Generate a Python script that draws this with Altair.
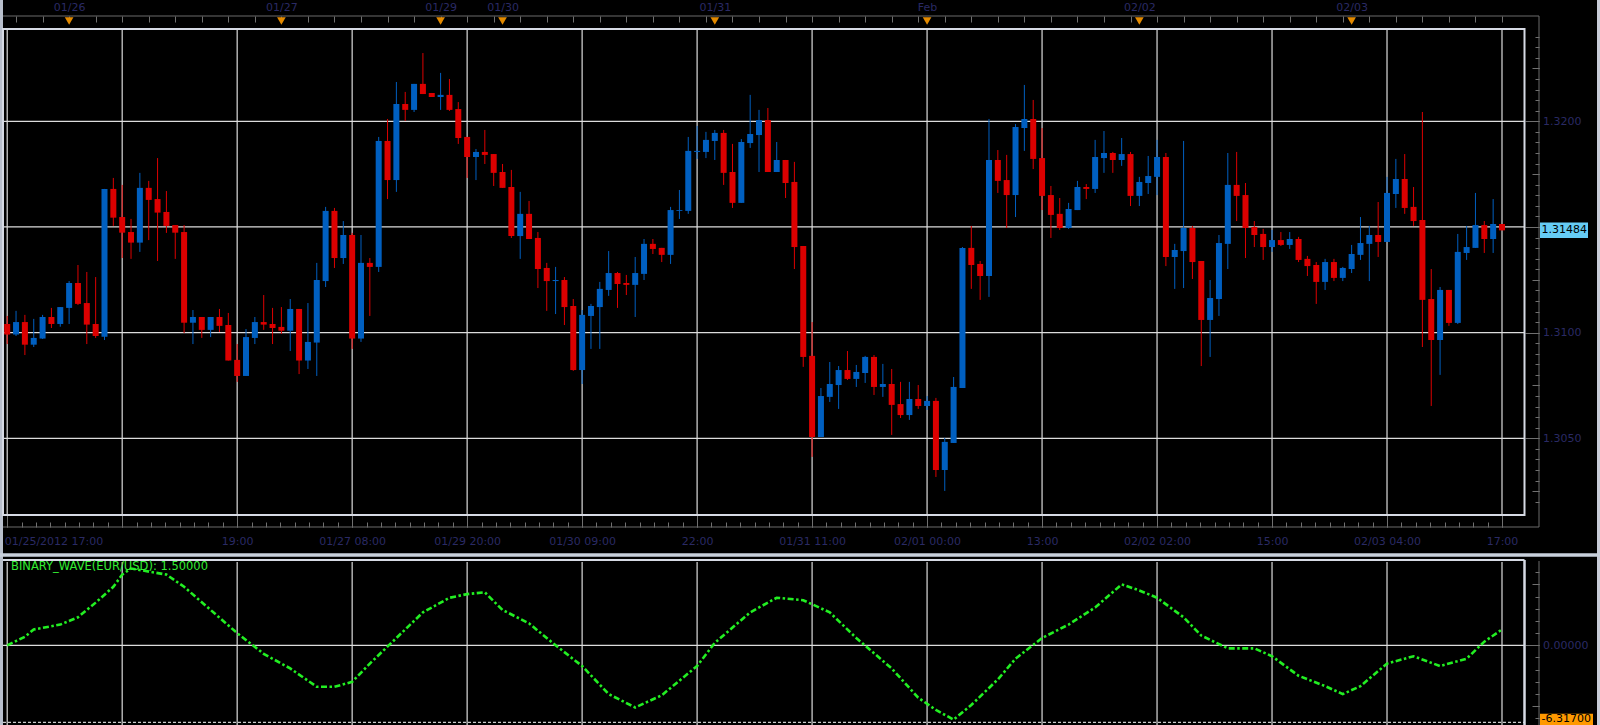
import json
import altair as alt
import pandas as pd

# ---------------- data ----------------
opens = [
1.31041,1.30991,1.31050,1.30943,1.30972,1.31074,1.31041,1.31117,1.31235,1.31140,
1.31041,1.30981,1.31680,1.31547,1.31476,1.31426,1.31685,1.31632,1.31571,1.31509,
1.31476,1.31047,1.31074,1.31013,1.31074,1.31036,1.30871,1.30795,1.30975,1.31050,
1.31041,1.31027,1.31009,1.31112,1.30868,1.30953,1.31244,1.31576,1.31353,1.31462,
1.30972,1.31330,1.31311,1.31907,1.31722,1.32082,1.32054,1.32177,1.32134,1.32115,
1.32125,1.32058,1.31926,1.31831,1.31855,1.31845,1.31760,1.31689,1.31457,1.31562,
1.31448,1.31306,1.31244,1.31249,1.31126,1.30823,1.31079,1.31121,1.31202,1.31282,
1.31235,1.31226,1.31278,1.31420,1.31401,1.31368,1.31576,1.31576,1.31855,1.31855,
1.31907,1.31945,1.31760,1.31614,1.31897,1.31935,1.32006,1.31760,1.31817,1.31713,
1.31410,1.30890,1.30506,1.30696,1.30752,1.30823,1.30781,1.30809,1.30885,1.30743,
1.30757,1.30662,1.30610,1.30686,1.30653,1.30677,1.30350,1.30478,1.30738,1.31401,
1.31325,1.31268,1.31817,1.31722,1.31651,1.31968,1.32011,1.31826,1.31651,1.31562,
1.31495,1.31580,1.31689,1.31680,1.31826,1.31850,1.31817,1.31845,1.31647,1.31708,
1.31737,1.31831,1.31358,1.31386,1.31495,1.31339,1.31060,1.31159,1.31420,1.31699,
1.31651,1.31500,1.31467,1.31405,1.31438,1.31415,1.31443,1.31349,1.31320,1.31240,
1.31334,1.31259,1.31301,1.31368,1.31420,1.31462,1.31429,1.31656,1.31727,1.31595,
1.31533,1.31159,1.30965,1.31202,1.31046,1.31377,1.31401,1.31509,1.31443,1.31514,
]
highs = [
1.31079,1.31103,1.31084,1.31065,1.31084,1.31117,1.31121,1.31244,1.31320,1.31287,
1.31263,1.31680,1.31732,1.31699,1.31538,1.31756,1.31718,1.31826,1.31670,1.31509,
1.31509,1.31107,1.31074,1.31074,1.31112,1.31093,1.30946,1.31017,1.31074,1.31178,
1.31117,1.31121,1.31159,1.31112,1.31140,1.31330,1.31595,1.31590,1.31528,1.31472,
1.31462,1.31353,1.31926,1.32011,1.32186,1.32139,1.32177,1.32323,1.32134,1.32229,
1.32200,1.32091,1.31926,1.31869,1.31959,1.31845,1.31798,1.31770,1.31666,1.31623,
1.31476,1.31330,1.31311,1.31263,1.31159,1.31107,1.31136,1.31240,1.31386,1.31287,
1.31273,1.31358,1.31443,1.31443,1.31401,1.31595,1.31675,1.31926,1.31978,1.31950,
1.31959,1.31959,1.31893,1.31916,1.32125,1.32054,1.32063,1.31902,1.31817,1.31808,
1.31410,1.31050,1.30738,1.30861,1.30842,1.30913,1.30847,1.30890,1.30894,1.30852,
1.30828,1.30767,1.30767,1.30752,1.30700,1.30691,1.30502,1.30790,1.31405,1.31505,
1.31339,1.32011,1.31864,1.31841,1.31987,1.32172,1.32101,1.31968,1.31694,1.31637,
1.31614,1.31718,1.31703,1.31912,1.31954,1.31855,1.31921,1.31855,1.31737,1.31836,
1.31912,1.31850,1.31420,1.31907,1.31505,1.31339,1.31249,1.31462,1.31850,1.31855,
1.31708,1.31528,1.31491,1.31486,1.31476,1.31476,1.31453,1.31363,1.31334,1.31349,
1.31349,1.31311,1.31415,1.31547,1.31505,1.31618,1.31737,1.31822,1.31845,1.31689,
1.32044,1.31301,1.31216,1.31202,1.31467,1.31505,1.31661,1.31528,1.31632,1.31514,
]
lows = [
1.30946,1.30984,1.30894,1.30932,1.30970,1.31022,1.31028,1.31041,1.31131,1.30946,
1.30975,1.30965,1.31505,1.31353,1.31349,1.31382,1.31438,1.31339,1.31472,1.31349,
1.30998,1.30946,1.30975,1.30979,1.31003,1.30868,1.30767,1.30795,1.30946,1.31013,
1.30946,1.30994,1.30913,1.30804,1.30828,1.30795,1.31216,1.31306,1.31325,1.30923,
1.30956,1.31079,1.31287,1.31632,1.31666,1.32002,1.32044,1.32129,1.32115,1.32054,
1.32049,1.31893,1.31732,1.31722,1.31798,1.31694,1.31685,1.31448,1.31349,1.31443,
1.31211,1.31103,1.31088,1.31036,1.30819,1.30757,1.30923,1.30923,1.31174,1.31117,
1.31178,1.31074,1.31249,1.31372,1.31334,1.31325,1.31538,1.31562,1.31822,1.31826,
1.31817,1.31699,1.31590,1.31614,1.31874,1.31760,1.31760,1.31760,1.31637,1.31301,
1.30838,1.30412,1.30506,1.30672,1.30639,1.30776,1.30743,1.30762,1.30705,1.30696,
1.30516,1.30596,1.30587,1.30639,1.30634,1.30317,1.30251,1.30478,1.30738,1.31207,
1.31155,1.31169,1.31661,1.31495,1.31547,1.31860,1.31774,1.31580,1.31448,1.31486,
1.31491,1.31580,1.31632,1.31661,1.31756,1.31756,1.31789,1.31599,1.31599,1.31656,
1.31651,1.31315,1.31207,1.31211,1.31254,1.30842,1.30885,1.31079,1.31301,1.31528,
1.31353,1.31405,1.31344,1.31382,1.31410,1.31396,1.31334,1.31268,1.31136,1.31202,
1.31244,1.31244,1.31282,1.31344,1.31244,1.31358,1.31429,1.31590,1.31562,1.31505,
1.30932,1.30653,1.30800,1.31032,1.31041,1.31344,1.31401,1.31377,1.31377,1.31484,
]
closes = [
1.30991,1.31050,1.30943,1.30975,1.31074,1.31041,1.31121,1.31235,1.31136,1.31038,
1.30984,1.31680,1.31544,1.31473,1.31426,1.31685,1.31628,1.31568,1.31505,1.31473,
1.31047,1.31074,1.31013,1.31074,1.31032,1.30868,1.30795,1.30979,1.31050,1.31038,
1.31022,1.31009,1.31112,1.30868,1.30956,1.31249,1.31576,1.31353,1.31462,1.30972,
1.31330,1.31311,1.31907,1.31722,1.32082,1.32054,1.32177,1.32129,1.32115,1.32125,
1.32054,1.31921,1.31831,1.31855,1.31841,1.31756,1.31685,1.31457,1.31562,1.31443,
1.31301,1.31244,1.31249,1.31121,1.30823,1.31084,1.31126,1.31207,1.31282,1.31230,
1.31226,1.31282,1.31420,1.31396,1.31368,1.31580,1.31580,1.31860,1.31860,1.31912,
1.31945,1.31756,1.31614,1.31902,1.31940,1.32006,1.31760,1.31817,1.31708,1.31405,
1.30885,1.30506,1.30700,1.30757,1.30823,1.30781,1.30814,1.30885,1.30743,1.30757,
1.30658,1.30610,1.30686,1.30653,1.30677,1.30350,1.30483,1.30743,1.31401,1.31320,
1.31268,1.31817,1.31718,1.31651,1.31973,1.32011,1.31822,1.31647,1.31557,1.31495,
1.31585,1.31689,1.31680,1.31831,1.31850,1.31817,1.31845,1.31647,1.31713,1.31741,
1.31831,1.31358,1.31391,1.31495,1.31334,1.31060,1.31164,1.31424,1.31699,1.31647,
1.31495,1.31462,1.31405,1.31438,1.31415,1.31443,1.31344,1.31315,1.31240,1.31334,
1.31259,1.31306,1.31372,1.31424,1.31462,1.31429,1.31661,1.31727,1.31590,1.31528,
1.31155,1.30965,1.31202,1.31046,1.31382,1.31405,1.31509,1.31443,1.31514,1.31484,
]

grid_idx = [0, 13, 26, 39, 52, 65, 78, 91, 104, 117, 130, 143, 156, 169]
time_labels = ["01/25/2012 17:00", "", "19:00", "01/27 08:00", "01/29 20:00",
               "01/30 09:00", "22:00", "01/31 11:00", "02/01 00:00", "13:00",
               "02/02 02:00", "15:00", "02/03 04:00", "17:00"]
day_idx = [7, 31, 49, 56, 80, 104, 128, 152]
day_labels = ["01/26", "01/27", "01/29", "01/30", "01/31", "Feb", "02/02", "02/03"]
price_grid = [1.305, 1.310, 1.315, 1.320]
price_mid = [1.3025, 1.3075, 1.3125, 1.3175, 1.3225]
price_minor = [round(1.3020 + 0.0005 * k, 4) for k in range(45)]
last_price = 1.31484

wave_idx = [0, 2, 3, 6, 8, 10, 12, 13, 14, 18, 20, 23, 26, 29, 32, 35, 37, 39, 41,
            44, 47, 50, 52, 54, 56, 59, 62, 65, 68, 71, 74, 78, 80, 84, 87, 90, 93,
            96, 100, 103, 105, 107, 109, 112, 114, 117, 120, 123, 126, 128, 130,
            133, 135, 138, 141, 143, 146, 149, 151, 153, 156, 159, 162, 165, 167, 169]
wave_vals = [0.0, 0.7, 1.3, 1.7, 2.3, 3.5, 4.8, 5.8, 6.3, 5.8, 4.8, 2.9, 1.0, -0.7,
             -1.9, -3.4, -3.4, -3.0, -1.5, 0.6, 2.7, 3.9, 4.2, 4.35, 2.9, 1.8, 0.0,
             -1.7, -4.0, -5.1, -4.1, -1.7, 0.2, 2.7, 3.9, 3.7, 2.7, 0.6, -1.9, -4.3,
             -5.3, -6.1, -4.9, -2.8, -1.1, 0.6, 1.7, 3.1, 5.0, 4.5, 3.9, 2.3, 0.8,
             -0.25, -0.25, -0.9, -2.5, -3.35, -4.0, -3.35, -1.5, -0.9, -1.7, -1.1,
             0.3, 1.3]
wave_ticks = [-6, -5, -4, -3, -2, -1, 0, 1, 2, 3, 4, 5, 6]
wave_mid = [-5, 5]
wave_low_mark = -6.317
wave_name = "BINARY_WAVE(EUR/USD): 1.50000"

bottom_minor = [k * 13 / 8 for k in range(0, 8 * 13 + 1)]
top_minor = list(range(1, 170, 3))

# ---------------- styling ----------------
W, H = 1600, 725
FONT = "DejaVu Sans"
LAB = "#2a2a64"
TICK = "#707070"
GRID = "#dcdcdc"
FRAME = "#d6dae4"
UP, DOWN = "#005fc0", "#dd0000"
GREEN = "#22ee22"
ORANGE = "#e38a00"
AXX = 1539  # x of the right-hand value axis

XS = alt.Scale(domain=[-0.814, 180.08], nice=False, zero=False, padding=0)
PS = alt.Scale(domain=[1.2914338, 1.3257398], nice=False, zero=False)
IS = alt.Scale(domain=[-6.538, 52.937], nice=False, zero=False)
CS = alt.Scale(domain=["up", "down"], range=[UP, DOWN])

ONE = pd.DataFrame({"k": [0]})

cdf = pd.DataFrame({"i": list(range(len(opens))), "o": opens, "h": highs,
                    "l": lows, "c": closes})
cdf["dir"] = ["up" if c >= o else "down" for o, c in zip(opens, closes)]
cdf["blo"] = cdf[["o", "c"]].min(axis=1)
cdf["bhi"] = cdf[["o", "c"]].max(axis=1)

gdf = pd.DataFrame({"g": grid_idx, "lab": time_labels})
ddf = pd.DataFrame({"d": day_idx, "lab": day_labels})
wdf = pd.DataFrame({"i": wave_idx, "v": wave_vals})


def hline(y, x1, x2, color, width, dash=None):
    kw = dict(color=color, strokeWidth=width)
    if dash:
        kw["strokeDash"] = dash
    return alt.Chart(ONE).mark_rule(**kw).encode(
        x=alt.value(x1), x2=alt.value(x2), y=alt.value(y))


def vline(x, y1, y2, color, width):
    return alt.Chart(ONE).mark_rule(color=color, strokeWidth=width).encode(
        x=alt.value(x), y=alt.value(y1), y2=alt.value(y2))


def yaxis(values, size, **extra):
    kw = dict(orient="left", offset=-AXX, values=values, tickSize=size,
              tickColor=TICK, tickWidth=1, domain=False, grid=False, title=None,
              labels=False)
    kw.update(extra)
    return alt.Axis(**kw)


LABEL_STYLE = dict(labels=True, labelAlign="left", labelBaseline="middle",
                   labelPadding=-(14 + 3.5), labelColor=LAB, labelFont=FONT,
                   labelFontSize=11, labelOverlap=False, labelFlush=False)

time_expr = "%s[indexof(%s, datum.value)]" % (json.dumps(time_labels), json.dumps(grid_idx))
day_expr = "%s[indexof(%s, datum.value)]" % (json.dumps(day_labels), json.dumps(day_idx))

ax_bottom_labels = alt.Axis(orient="top", offset=-527, values=grid_idx, tickSize=12,
                            tickColor=TICK, domain=False, grid=False, title=None,
                            labelExpr="datum.value == 0 ? '' : " + time_expr,
                            labelAlign="center", labelBaseline="middle",
                            labelPadding=-26, labelColor=LAB, labelFont=FONT,
                            labelFontSize=11, labelOverlap=False, labelFlush=False)
ax_first_label = alt.Axis(orient="top", offset=-527, values=[0], ticks=False,
                          domain=False, grid=False, title=None,
                          labelExpr=json.dumps(time_labels[0]), labelAlign="left",
                          labelBaseline="middle", labelPadding=-14, labelOffset=-3,
                          labelColor=LAB, labelFont=FONT, labelFontSize=11,
                          labelOverlap=False, labelFlush=False)
ax_bottom_minor = alt.Axis(orient="top", offset=-527, values=bottom_minor, tickSize=5,
                           tickColor=TICK, labels=False, domain=False, grid=False,
                           title=None)
ax_top_minor = alt.Axis(orient="bottom", offset=-(H - 16), values=top_minor, tickSize=6,
                        tickColor=TICK, labels=False, domain=False, grid=False,
                        title=None)
ax_days = alt.Axis(orient="bottom", offset=-(H - 16), values=day_idx, ticks=False,
                   domain=False, grid=False, title=None, labelExpr=day_expr,
                   labelAlign="center", labelBaseline="middle", labelPadding=-9,
                   labelColor=LAB, labelFont=FONT, labelFontSize=11,
                   labelOverlap=False, labelFlush=False)

# ---------------- layers ----------------
layers = []

# window borders / separators
layers.append(vline(1.5, 0, H, "#b8bfcc", 3))
layers.append(vline(1598.5, 0, H, "#c8ccd8", 3))
layers.append(hline(555, 0, W, "#c8d0dc", 3.5))
layers.append(hline(16, 3, AXX, "#6a6a6a", 1))
layers.append(hline(527, 3, AXX, "#6a6a6a", 1))
layers.append(vline(AXX, 16, 527, "#6a6a6a", 1))
layers.append(vline(AXX, 561, H, "#6a6a6a", 1))

# main panel grid
layers.append(alt.Chart(gdf).mark_rule(color=GRID, strokeWidth=1.2).encode(
    x=alt.X("g:Q", scale=XS, axis=ax_bottom_labels),
    y=alt.value(30), y2=alt.value(514)))
layers.append(alt.Chart(pd.DataFrame({"p": price_grid})).mark_rule(
    color=GRID, strokeWidth=1.2).encode(
    y=alt.Y("p:Q", scale=PS, axis=yaxis(
        price_grid, 14,
        labelExpr="(datum.value > 1.3149 && datum.value < 1.3151) ? '' : format(datum.value, '.4f')",
        **LABEL_STYLE)),
    x=alt.value(3), x2=alt.value(1524)))

# candles
layers.append(alt.Chart(cdf).mark_rule(strokeWidth=1).encode(
    x=alt.X("i:Q", scale=XS, axis=ax_bottom_minor),
    y=alt.Y("l:Q", scale=PS, axis=yaxis(price_minor, 4)),
    y2="h:Q",
    color=alt.Color("dir:N", scale=CS, legend=None)))
layers.append(alt.Chart(cdf).mark_bar(size=6).encode(
    x=alt.X("i:Q", scale=XS, axis=ax_top_minor),
    y=alt.Y("blo:Q", scale=PS, axis=yaxis(price_mid, 7)),
    y2="bhi:Q",
    color=alt.Color("dir:N", scale=CS, legend=None)))

# main frame
layers.append(alt.Chart(ONE).mark_rect(fillOpacity=0, stroke=FRAME, strokeWidth=2).encode(
    x=alt.value(3), x2=alt.value(1524.5), y=alt.value(29), y2=alt.value(515)))

# top date markers
layers.append(alt.Chart(ddf).mark_point(shape="triangle-down", filled=True, size=75,
                                        color=ORANGE, opacity=1).encode(
    x=alt.X("d:Q", scale=XS, axis=ax_days), y=alt.value(21)))

# lower panel
layers.append(alt.Chart(gdf).mark_rule(color=GRID, strokeWidth=1.2).encode(
    x=alt.X("g:Q", scale=XS, axis=ax_first_label),
    y=alt.value(562), y2=alt.value(H)))
layers.append(alt.Chart(pd.DataFrame({"v": [0]})).mark_rule(color=GRID, strokeWidth=1.2).encode(
    y=alt.Y("v:Q", scale=IS, axis=yaxis([0], 14, labelExpr="'0.00000'", **LABEL_STYLE)),
    x=alt.value(3), x2=alt.value(1524)))
layers.append(alt.Chart(pd.DataFrame({"v": [wave_low_mark]})).mark_rule(
    color="#ffffff", strokeWidth=1, strokeDash=[3, 2]).encode(
    y=alt.Y("v:Q", scale=IS, axis=yaxis(wave_mid, 7)),
    x=alt.value(3), x2=alt.value(1524)))
layers.append(alt.Chart(wdf).mark_line(color=GREEN, strokeWidth=2.6,
                                       strokeDash=[6, 2.5, 2.5, 2.5]).encode(
    x=alt.X("i:Q", scale=XS, axis=None),
    y=alt.Y("v:Q", scale=IS, axis=yaxis(wave_ticks, 4))))
layers.append(hline(560, 3, 1524.5, FRAME, 2))
layers.append(vline(1524.5, 560, H, FRAME, 2.5))
layers.append(alt.Chart(pd.DataFrame({"t": [wave_name]})).mark_text(
    align="left", baseline="middle", font=FONT, fontSize=11.5, color="#33ee33").encode(
    x=alt.value(11), y=alt.value(567), text="t:N"))

# value boxes on the right axis
lpdf = pd.DataFrame({"p": [last_price], "t": ["%.5f" % last_price]})
layers.append(alt.Chart(lpdf).mark_rule(color="#66ccf5", strokeWidth=15.5).encode(
    y=alt.Y("p:Q", scale=PS, axis=None), x=alt.value(1540), x2=alt.value(1588)))
layers.append(alt.Chart(lpdf).mark_text(align="left", baseline="middle", font=FONT,
                                        fontSize=11, color="#000000").encode(
    y=alt.Y("p:Q", scale=PS, axis=None), x=alt.value(1541.5), text="t:N"))
wmdf = pd.DataFrame({"v": [wave_low_mark], "t": ["%.5f" % wave_low_mark]})
layers.append(alt.Chart(wmdf).mark_rule(color="#ff9900", strokeWidth=17).encode(
    y=alt.Y("v:Q", scale=IS, axis=None), x=alt.value(1540), x2=alt.value(1593)))
layers.append(alt.Chart(wmdf).mark_text(align="left", baseline="middle", font=FONT,
                                        fontSize=11, color="#000000", dy=-3).encode(
    y=alt.Y("v:Q", scale=IS, axis=None), x=alt.value(1541.5), text="t:N"))

chart = alt.layer(*layers).properties(
    width=W, height=H,
    autosize=alt.AutoSizeParams(type="none"),
    padding=0,
    background="#000000",
).resolve_scale(y="independent").resolve_axis(
    x="independent", y="independent"
).configure_view(strokeWidth=0, fill="#000000")

chart.save("out.html", embed_options={"renderer": "svg", "actions": False})
